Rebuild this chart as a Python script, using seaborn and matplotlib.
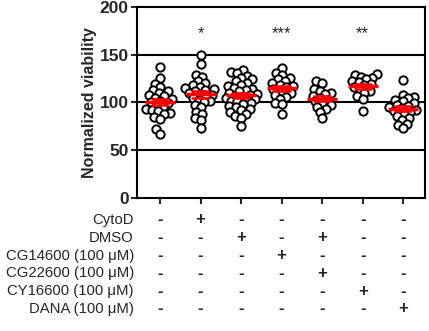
import numpy as np
import pandas as pd
import matplotlib
matplotlib.use("Agg")
import matplotlib.pyplot as plt
import seaborn as sns

# hodnoty (normalizovana viabilita)
groups = ["G1", "G2", "G3", "G4", "G5", "G6", "G7"]
ctrl = [137, 126, 119, 116, 113, 112, 110, 108, 107, 105, 104, 102, 100,
        99, 97, 95, 93, 92, 91, 89, 88, 85, 83, 72, 67]
cytod = [149, 140, 129, 127, 122, 120, 118, 116, 115, 114, 113, 112, 110,
         109, 108, 106, 105, 103, 101, 100, 97, 95, 90, 88, 84, 82, 73]
dmso = [134, 132, 131, 128, 126, 124, 122, 120, 118, 117, 115, 114, 113,
        112, 110, 109, 108, 107, 106, 105, 104, 103, 102, 101, 99, 98, 96,
        95, 93, 92, 90, 88, 86, 84, 75]
cg14600 = [136, 131, 129, 126, 124, 122, 120, 118, 117, 116, 114, 112, 110,
           108, 106, 104, 99, 98, 88]
cg22600 = [122, 120, 114, 112, 110, 109, 107, 105, 103, 101, 99, 97, 95,
           93, 90, 84]
cy16600 = [130, 129, 127, 126, 124, 122, 121, 119, 118, 116, 114, 112, 110,
           107, 104, 91]
dana = [123, 108, 106, 105, 103, 101, 99, 97, 96, 95, 94, 92, 91, 90, 88,
        86, 84, 82, 78, 76, 73]
stars = ["", "*", "", "***", "", "**", ""]

row_labels = ["CytoD", "DMSO", "CG14600 (100 \u03bcM)", "CG22600 (100 \u03bcM)",
              "CY16600 (100 \u03bcM)", "DANA (100 \u03bcM)"]
treat = [
    ["-", "+", "-", "-", "-", "-", "-"],
    ["-", "-", "+", "-", "+", "-", "-"],
    ["-", "-", "-", "+", "-", "-", "-"],
    ["-", "-", "-", "-", "+", "-", "-"],
    ["-", "-", "-", "-", "-", "+", "-"],
    ["-", "-", "-", "-", "-", "-", "+"],
]

values = [ctrl, cytod, dmso, cg14600, cg22600, cy16600, dana]
df = pd.DataFrame({
    "group": np.repeat(groups, [len(v) for v in values]),
    "viability": np.concatenate(values),
})

sns.set_style("ticks")
plt.rcParams["font.family"] = ["Liberation Sans", "DejaVu Sans"]

fig = plt.figure(figsize=(4.29, 3.31), dpi=100)
ax = fig.add_axes([0.319, 0.401, 0.672, 0.579])

for yv in [50, 100, 150]:
    ax.axhline(yv, color="black", lw=1.5, zorder=0)

ax.set_ylim(0, 200)
ax.set_xlim(-0.57, 6.54)

# swarm s mensimi body, rozmisteni zafixovat a pak body zvetsit
# -> prekryvani jako v originalu
sns.swarmplot(data=df, x="group", y="viability", order=groups, ax=ax,
              color="white", edgecolor="black", linewidth=1.4, size=2.9,
              zorder=2)
ax.set_xlim(-0.57, 6.54)
fig.canvas.draw()
for coll in ax.collections:
    if "draw" in coll.__dict__:
        del coll.draw
    coll.set_sizes([6.0 ** 2])

sns.pointplot(data=df, x="group", y="viability", order=groups, ax=ax,
              errorbar="se", color="red", markers="_", markersize=22,
              markeredgewidth=2.5, linestyle="none", capsize=0.4,
              err_kws={"linewidth": 1.8}, zorder=3)

for i, s in enumerate(stars):
    if s:
        ax.text(i, 172, s, ha="center", va="center", fontsize=12)

ax.set_ylim(0, 200)
ax.set_xlim(-0.57, 6.54)
ax.set_yticks([0, 50, 100, 150, 200])
ax.set_yticklabels(["0", "50", "100", "150", "200"], fontsize=12.5,
                   fontweight="bold")
ax.set_xticklabels([])
ax.set_xlabel("")
ax.set_ylabel("Normalized viability", fontsize=11.5, fontweight="bold",
              labelpad=2)
ax.tick_params(axis="both", direction="out", length=4, width=1.5, pad=2)
for sp in ax.spines.values():
    sp.set_linewidth(1.5)
    sp.set_color("black")
    sp.set_visible(True)

# tabulka +/- pod osou
for r, lab in enumerate(row_labels):
    yy = -(21.7 + 17.8 * r) / 191.6
    ax.text(-0.01, yy, lab, transform=ax.transAxes, ha="right",
            va="center", fontsize=10.7)
    for c, sign in enumerate(treat[r]):
        ax.text(c, yy, sign, transform=ax.get_xaxis_transform(),
                ha="center", va="center", fontsize=12, fontweight="bold")

fig.savefig("out.png", dpi=100)
